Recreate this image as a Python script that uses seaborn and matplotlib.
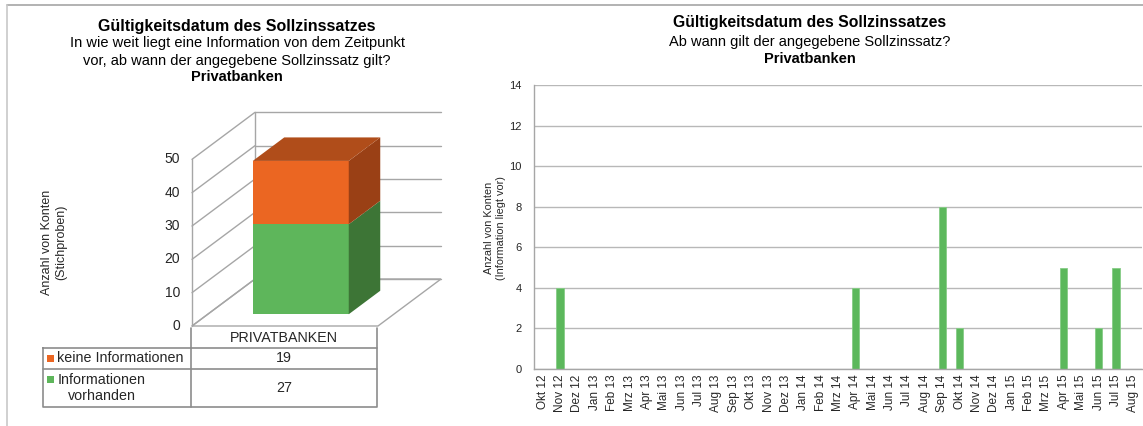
import numpy as np
import pandas as pd
import matplotlib
matplotlib.use('Agg')
import matplotlib.pyplot as plt
import seaborn as sns
from matplotlib.patches import Polygon, Rectangle

# ---------------- data ----------------
months = ['Okt 12', 'Nov 12', 'Dez 12',
          'Jan 13', 'Feb 13', 'Mrz 13', 'Apr 13', 'Mai 13', 'Jun 13',
          'Jul 13', 'Aug 13', 'Sep 13', 'Okt 13', 'Nov 13', 'Dez 13',
          'Jan 14', 'Feb 14', 'Mrz 14', 'Apr 14', 'Mai 14', 'Jun 14',
          'Jul 14', 'Aug 14', 'Sep 14', 'Okt 14', 'Nov 14', 'Dez 14',
          'Jan 15', 'Feb 15', 'Mrz 15', 'Apr 15', 'Mai 15', 'Jun 15',
          'Jul 15', 'Aug 15']
counts = [0, 4, 0,
          0, 0, 0, 0, 0, 0,
          0, 0, 0, 0, 0, 0,
          0, 0, 0, 4, 0, 0,
          0, 0, 8, 2, 0, 0,
          0, 0, 0, 5, 0, 2,
          5, 0]

group_label = 'PRIVATBANKEN'
series_names = ['Informationen\nvorhanden', 'keine Informationen']   # stacking order bottom -> top
series_values = [27, 19]
left_yticks = [0, 10, 20, 30, 40, 50]
right_yticks = [0, 2, 4, 6, 8, 10, 12, 14]

front_colors = ['#5EB65B', '#EB6622']
side_colors = ['#3D7536', '#9A4015']
top_color = '#B04D1A'
grid_col = '#B8B8B8'
text_col = '#262626'

sns.set_theme(style='white')
plt.rcParams['font.family'] = ['Liberation Sans', 'DejaVu Sans']

W, H = 1143, 426
fig = plt.figure(figsize=(W / 100, H / 100), dpi=100)
fig.patch.set_facecolor('white')


def box(x0, y0, x1, y1):
    return [x0 / W, 1 - y1 / H, (x1 - x0) / W, (y1 - y0) / H]


def ftext(x, y, s, **kw):
    fig.text(x / W, 1 - y / H, s, **kw)


# ---------------- right chart ----------------
axr = fig.add_axes(box(534, 85, 1142, 369))
df = pd.DataFrame({'Monat': months, 'Anzahl': counts})
sns.barplot(data=df, x='Monat', y='Anzahl', order=months, color='#5CB85C',
            saturation=1, width=0.42, edgecolor='#86CC86', linewidth=0.6, ax=axr)
axr.set_xlim(-0.5, len(months) - 0.5)
axr.set_ylim(0, 14)
axr.set_yticks(right_yticks)
axr.yaxis.grid(True, color=grid_col, lw=1)
axr.xaxis.grid(False)
axr.set_axisbelow(True)
for sp in ['top', 'right']:
    axr.spines[sp].set_visible(False)
for sp in ['left', 'bottom']:
    axr.spines[sp].set_color('#A6A6A6')
    axr.spines[sp].set_linewidth(1)
axr.tick_params(axis='x', rotation=90, labelsize=8.5, length=0, pad=4, colors=text_col)
axr.tick_params(axis='y', labelsize=8, length=0, pad=9, colors=text_col)
axr.set_xlabel('')
axr.set_ylabel('')
ftext(495, 228, 'Anzahl von Konten\n(Information liegt vor)', rotation=90,
      ha='center', va='center', fontsize=7.8, color=text_col, multialignment='center')

ftext(810, 23, 'Gültigkeitsdatum des Sollzinssatzes', ha='center', va='center',
      fontsize=11.3, fontweight='bold', color='black')
ftext(810, 42, 'Ab wann gilt der angegebene Sollzinssatz?', ha='center', va='center',
      fontsize=10.5, color='black')
ftext(810, 59, 'Privatbanken', ha='center', va='center',
      fontsize=10.5, fontweight='bold', color='black')

# ---------------- left 3D stacked bar ----------------
s = 10 / 3.0            # pixels per value unit
ax3 = fig.add_axes(box(150, 100, 450, 340))
ax3.set_xlim((150 - 192) / s, (450 - 192) / s)
ax3.set_ylim((326 - 340) / s, (326 - 100) / s)
ax3.axis('off')

Dx, Dy = 18.9, 14.1     # depth of floor / walls
FW = 55.8               # floor width
f0, f1 = 0.25, 0.75     # bar depth range (fraction)
bw = 28.8               # bar width
ymax = left_yticks[-1]
wall_col = '#A6A6A6'

# floor
ax3.add_patch(Polygon([(0, 0), (FW, 0), (FW + Dx, Dy), (Dx, Dy)], closed=True,
                      facecolor='white', edgecolor=wall_col, lw=1, zorder=1))
for v in left_yticks:
    ax3.plot([Dx, FW + Dx], [v + Dy, v + Dy], color=wall_col, lw=1, zorder=1)
    ax3.plot([0, Dx], [v, v + Dy], color=wall_col, lw=1, zorder=1)
    ax3.text(-3.6, v, str(v), ha='right', va='center', fontsize=10, color=text_col)
ax3.plot([0, 0], [0, ymax], color=wall_col, lw=1, zorder=1)
ax3.plot([Dx, Dx], [Dy, ymax + Dy], color=wall_col, lw=1, zorder=1)

bx_center = FW / 2 + f0 * Dx
bx0, bx1 = bx_center - bw / 2, bx_center + bw / 2
ddx, ddy = (f1 - f0) * Dx, (f1 - f0) * Dy
base = f0 * Dy
cum = 0
for val, fc, sc in zip(series_values, front_colors, side_colors):
    b = base + cum
    t = b + val
    ax3.bar(bx_center, val, bottom=b, width=bw, color=fc, edgecolor='none', zorder=3)
    ax3.add_patch(Polygon([(bx1, b), (bx1 + ddx, b + ddy), (bx1 + ddx, t + ddy), (bx1, t)],
                          closed=True, facecolor=sc, edgecolor='none', zorder=3))
    cum += val
T = base + cum
ax3.add_patch(Polygon([(bx0, T), (bx1, T), (bx1 + ddx, T + ddy), (bx0 + ddx, T + ddy)],
                      closed=True, facecolor=top_color, edgecolor='none', zorder=3))

ftext(54, 242, 'Anzahl von Konten\n(Stichproben)', rotation=90, ha='center', va='center',
      fontsize=9, color=text_col, multialignment='center')

ftext(237, 26, 'Gültigkeitsdatum des Sollzinssatzes', ha='center', va='center',
      fontsize=11.5, fontweight='bold', color='black')
ftext(237, 43, 'In wie weit liegt eine Information von dem Zeitpunkt', ha='center', va='center',
      fontsize=10.5, color='black')
ftext(237, 61, 'vor, ab wann der angegebene Sollzinssatz gilt?', ha='center', va='center',
      fontsize=10.5, color='black')
ftext(237, 77, 'Privatbanken', ha='center', va='center',
      fontsize=10.5, fontweight='bold', color='black')

# ---------------- overlay: data table & frame ----------------
axo = fig.add_axes([0, 0, 1, 1], facecolor='none')
axo.set_xlim(0, W)
axo.set_ylim(H, 0)
axo.axis('off')
axo.set_zorder(10)
tc = '#8C8C8C'
lw = 1.2
# header cell
axo.plot([191, 191], [328, 348], color=tc, lw=lw)
axo.plot([377, 377], [328, 348], color=tc, lw=lw)
# body
axo.plot([43, 377, 377, 43, 43], [348, 348, 407, 407, 348], color=tc, lw=lw)
axo.plot([43, 377], [369, 369], color=tc, lw=lw)
axo.plot([191, 191], [348, 407], color=tc, lw=lw)
axo.text(284, 338.5, group_label, ha='center', va='center', fontsize=10.3, color=text_col)
row_y = {'keine Informationen': 358.5, 'Informationen\nvorhanden': 388}
key_y = {'keine Informationen': 355, 'Informationen\nvorhanden': 376}
for name, val, fc in zip(series_names, series_values, front_colors):
    axo.text(284, row_y[name], str(val), ha='center', va='center', fontsize=10.3, color=text_col)
    axo.add_patch(Rectangle((47, key_y[name]), 7, 7, facecolor=fc, edgecolor='none'))
    if '\n' in name:
        axo.text(102, row_y[name], name, ha='center', va='center', fontsize=10.3,
                 color=text_col, multialignment='center', linespacing=1.15)
    else:
        axo.text(57, row_y[name], name, ha='left', va='center', fontsize=10.3, color=text_col)

# outer frame
axo.plot([7, W], [5, 5], color='#A6A6A6', lw=1.2)
axo.plot([7, 7], [5, H], color='#C8C8C8', lw=1.2)

fig.savefig('out.png', dpi=100, facecolor='white')
